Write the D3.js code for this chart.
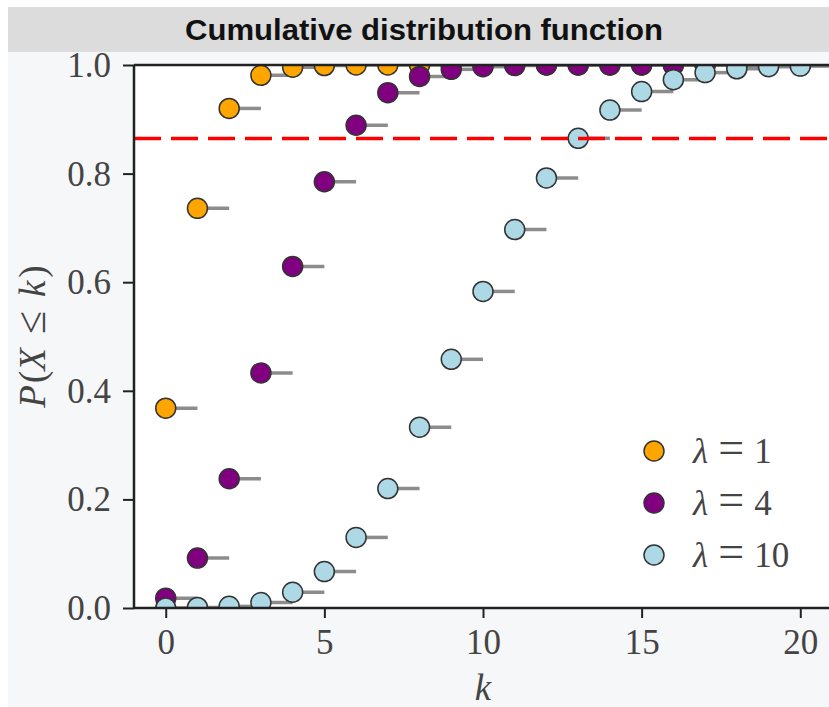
<!DOCTYPE html>
<html>
<head>
<meta charset="utf-8">
<script src="https://cdn.jsdelivr.net/npm/d3@7"></script>
<style>
  body { margin: 0; background: #ffffff; }
</style>
</head>
<body>
<div id="chart"></div>
<script>
// k values on the x axis
var kValues = [0, 1, 2, 3, 4, 5, 6, 7, 8, 9, 10, 11, 12, 13, 14, 15, 16, 17, 18, 19, 20];

// P(X <= k) for each lambda
var cdfLambda1 = [0.368, 0.736, 0.920, 0.981, 0.996, 0.999, 1.000, 1.000, 1.000, 1.000, 1.000,
                  1.000, 1.000, 1.000, 1.000, 1.000, 1.000, 1.000, 1.000, 1.000, 1.000];
var cdfLambda4 = [0.018, 0.092, 0.238, 0.433, 0.629, 0.785, 0.889, 0.949, 0.979, 0.992, 0.997,
                  0.999, 1.000, 1.000, 1.000, 1.000, 1.000, 1.000, 1.000, 1.000, 1.000];
var cdfLambda10 = [0.000, 0.001, 0.003, 0.010, 0.029, 0.067, 0.130, 0.220, 0.333, 0.458, 0.583,
                   0.697, 0.792, 0.865, 0.917, 0.951, 0.973, 0.986, 0.993, 0.997, 0.998];

var seriesNames = ["1", "4", "10"];
var seriesColors = ["#ffa500", "#800080", "#add8e6"];
var seriesValues = [cdfLambda1, cdfLambda4, cdfLambda10];

var xTicks = [0, 5, 10, 15, 20];
var yTicks = [0.0, 0.2, 0.4, 0.6, 0.8, 1.0];
var threshold = 0.8647;

var W = 829, H = 707;
var plot = { left: 134, top: 65, right: 832, bottom: 608 };

var svg = d3.select("#chart")
  .append("svg")
  .attr("width", W)
  .attr("height", H);

// figure background and title bar
svg.append("rect")
  .attr("x", 8).attr("y", 7)
  .attr("width", W - 8).attr("height", H - 7)
  .attr("fill", "#f6f7f9");

svg.append("rect")
  .attr("x", 8).attr("y", 7)
  .attr("width", W - 8).attr("height", 45)
  .attr("fill", "#dcdcdc");

svg.append("text")
  .attr("x", 424)
  .attr("y", 40)
  .attr("text-anchor", "middle")
  .attr("textLength", 478)
  .attr("lengthAdjust", "spacingAndGlyphs")
  .style("font-family", "'Liberation Sans', Arial, sans-serif")
  .style("font-size", "29px")
  .style("font-weight", "bold")
  .style("fill", "#111")
  .text("Cumulative distribution function");

// scales
var x = d3.scaleLinear().domain([-1, 21]).range([plot.left, plot.right]);
var y = d3.scaleLinear().domain([0, 1]).range([plot.bottom, plot.top]);

// axes area
svg.append("rect")
  .attr("x", plot.left).attr("y", plot.top)
  .attr("width", plot.right - plot.left)
  .attr("height", plot.bottom - plot.top)
  .attr("fill", "#ffffff");

svg.append("clipPath")
  .attr("id", "clip")
  .append("rect")
  .attr("x", plot.left).attr("y", plot.top)
  .attr("width", plot.right - plot.left)
  .attr("height", plot.bottom - plot.top);

var g = svg.append("g").attr("clip-path", "url(#clip)");

// steps and points for each series
seriesValues.forEach(function(vals, i) {
  var pts = kValues.map(function(k, j) { return { k: k, p: vals[j] }; });

  g.selectAll(".step" + i)
    .data(pts)
    .enter().append("line")
    .attr("x1", function(d) { return x(d.k); })
    .attr("x2", function(d) { return x(d.k + 1); })
    .attr("y1", function(d) { return y(d.p); })
    .attr("y2", function(d) { return y(d.p); })
    .attr("stroke", "#808080")
    .attr("stroke-width", 3.5)
    .attr("opacity", 0.9);

  g.selectAll(".dot" + i)
    .data(pts)
    .enter().append("circle")
    .attr("cx", function(d) { return x(d.k); })
    .attr("cy", function(d) { return y(d.p); })
    .attr("r", 10)
    .attr("fill", seriesColors[i])
    .attr("stroke", "#333")
    .attr("stroke-width", 1.5);
});

// red dashed threshold line
g.append("line")
  .attr("x1", plot.left)
  .attr("x2", plot.right)
  .attr("y1", y(threshold))
  .attr("y2", y(threshold))
  .attr("stroke", "#ff0000")
  .attr("stroke-width", 3.5)
  .attr("stroke-dasharray", "27,10");

// axes
var serif = "'Liberation Serif', 'DejaVu Serif', serif";
var textColor = "#444";

var xAxis = svg.append("g")
  .attr("transform", "translate(0," + plot.bottom + ")")
  .call(d3.axisBottom(x).tickValues(xTicks).tickSize(10).tickPadding(8).tickFormat(d3.format("d")));

var yAxis = svg.append("g")
  .attr("transform", "translate(" + plot.left + ",0)")
  .call(d3.axisLeft(y).tickValues(yTicks).tickSize(11).tickPadding(12).tickFormat(d3.format(".1f")));

[xAxis, yAxis].forEach(function(ax) {
  ax.select(".domain").remove();
  ax.selectAll("line").attr("stroke", "#222").attr("stroke-width", 2);
  ax.selectAll("text")
    .style("font-family", serif)
    .style("font-size", "35px")
    .style("fill", textColor);
});
xAxis.selectAll("text").attr("dy", "0.8em");
yAxis.selectAll("text").attr("dy", "0.33em");

// spines (left, top, bottom)
svg.append("line")
  .attr("x1", plot.left).attr("x2", plot.left)
  .attr("y1", plot.top).attr("y2", plot.bottom)
  .attr("stroke", "#222").attr("stroke-width", 2.5);
svg.append("line")
  .attr("x1", plot.left).attr("x2", W)
  .attr("y1", plot.top).attr("y2", plot.top)
  .attr("stroke", "#222").attr("stroke-width", 2.5);
svg.append("line")
  .attr("x1", plot.left).attr("x2", W)
  .attr("y1", plot.bottom).attr("y2", plot.bottom)
  .attr("stroke", "#222").attr("stroke-width", 2.5);

// axis labels
svg.append("text")
  .attr("x", x(10))
  .attr("y", 700)
  .attr("text-anchor", "middle")
  .style("font-family", serif)
  .style("font-size", "37px")
  .style("font-style", "italic")
  .style("fill", textColor)
  .text("k");

var yLabel = svg.append("text")
  .attr("transform", "translate(45," + ((plot.top + plot.bottom) / 2) + ") rotate(-90)")
  .attr("text-anchor", "middle")
  .style("font-family", serif)
  .style("font-size", "37px")
  .style("fill", textColor);
yLabel.append("tspan").style("font-style", "italic").text("P");
yLabel.append("tspan").attr("dx", 2).text("(");
yLabel.append("tspan").style("font-style", "italic").text("X");
yLabel.append("tspan").attr("dx", 14).style("font-size", "42px").text("\u2264");
yLabel.append("tspan").attr("dx", 14).style("font-style", "italic").text("k");
yLabel.append("tspan").attr("dx", 3).text(")");

// legend
var legend = svg.append("g");
seriesNames.forEach(function(name, i) {
  var ly = 451 + i * 52;
  legend.append("circle")
    .attr("cx", 654).attr("cy", ly)
    .attr("r", 10)
    .attr("fill", seriesColors[i])
    .attr("stroke", "#333")
    .attr("stroke-width", 1.5);
  var t = legend.append("text")
    .attr("x", 693).attr("y", ly + 12)
    .style("font-family", serif)
    .style("font-size", "35px")
    .style("fill", textColor);
  t.append("tspan").style("font-style", "italic").text("\u03bb");
  t.append("tspan").attr("dx", 10).style("font-size", "46px").text("=");
  t.append("tspan").attr("dx", 10).text(name);
});
</script>
</body>
</html>
